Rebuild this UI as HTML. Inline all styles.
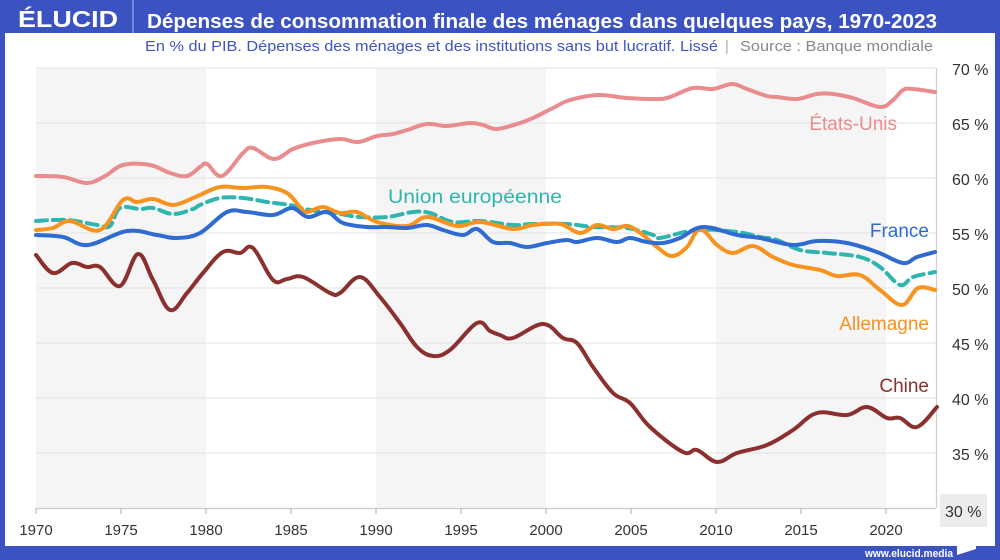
<!DOCTYPE html>
<html><head><meta charset="utf-8"><style>
html,body{margin:0;padding:0;background:#fff;}
svg{display:block;}
text{font-family:"Liberation Sans",sans-serif;}
</style></head><body>
<svg id="chart" width="1000" height="560" viewBox="0 0 1000 560" xmlns="http://www.w3.org/2000/svg">
<rect x="0" y="0" width="1000" height="560" fill="#3b53c0"/>
<rect x="5" y="33" width="990" height="513" fill="#fff"/>
<!-- header -->
<text x="18" y="27" font-size="23" font-weight="bold" fill="#fff" textLength="100" lengthAdjust="spacingAndGlyphs">ÉLUCID</text>
<line x1="133" y1="0" x2="133" y2="33" stroke="#8d9be0" stroke-width="1.5"/>
<text x="147" y="28" font-size="20.5" font-weight="bold" fill="#fff" textLength="790" lengthAdjust="spacingAndGlyphs">Dépenses de consommation finale des ménages dans quelques pays, 1970-2023</text>
<text x="145" y="51" font-size="14.5" fill="#3f56c2" textLength="573" lengthAdjust="spacingAndGlyphs">En % du PIB. Dépenses des ménages et des institutions sans but lucratif. Lissé</text>
<text x="725" y="51" font-size="14.5" fill="#aaa">|</text>
<text x="740" y="51" font-size="14.5" fill="#888" textLength="193" lengthAdjust="spacingAndGlyphs">Source : Banque mondiale</text>
<!-- bands -->
<rect x="36" y="68" width="170" height="440" fill="#f5f5f5"/>
<rect x="376" y="68" width="170" height="440" fill="#f5f5f5"/>
<rect x="716" y="68" width="170" height="440" fill="#f5f5f5"/>
<!-- grid -->
<g stroke="#e6e6e6" stroke-width="1.2">
<line x1="36" y1="68" x2="936" y2="68"/>
<line x1="36" y1="123" x2="936" y2="123"/>
<line x1="36" y1="178" x2="936" y2="178"/>
<line x1="36" y1="233" x2="936" y2="233"/>
<line x1="36" y1="288" x2="936" y2="288"/>
<line x1="36" y1="343" x2="936" y2="343"/>
<line x1="36" y1="398" x2="936" y2="398"/>
<line x1="36" y1="453" x2="936" y2="453"/>
</g>
<line x1="936.5" y1="68" x2="936.5" y2="508" stroke="#cfcfcf" stroke-width="1.2"/>
<line x1="36" y1="508.5" x2="936" y2="508.5" stroke="#cccccc" stroke-width="1.2"/>
<g stroke="#bbb" stroke-width="1.2">
<line x1="36" y1="508" x2="36" y2="514"/>
<line x1="121" y1="508" x2="121" y2="514"/>
<line x1="206" y1="508" x2="206" y2="514"/>
<line x1="291" y1="508" x2="291" y2="514"/>
<line x1="376" y1="508" x2="376" y2="514"/>
<line x1="461" y1="508" x2="461" y2="514"/>
<line x1="546" y1="508" x2="546" y2="514"/>
<line x1="631" y1="508" x2="631" y2="514"/>
<line x1="716" y1="508" x2="716" y2="514"/>
<line x1="801" y1="508" x2="801" y2="514"/>
<line x1="886" y1="508" x2="886" y2="514"/>
</g>
<g font-size="15" fill="#333" text-anchor="middle">
<text x="36" y="535">1970</text>
<text x="121" y="535">1975</text>
<text x="206" y="535">1980</text>
<text x="291" y="535">1985</text>
<text x="376" y="535">1990</text>
<text x="461" y="535">1995</text>
<text x="546" y="535">2000</text>
<text x="631" y="535">2005</text>
<text x="716" y="535">2010</text>
<text x="801" y="535">2015</text>
<text x="886" y="535">2020</text>
</g>
<g font-size="16" fill="#333">
<text x="952" y="75">70 %</text>
<text x="952" y="130">65 %</text>
<text x="952" y="185">60 %</text>
<text x="952" y="240">55 %</text>
<text x="952" y="295">50 %</text>
<text x="952" y="350">45 %</text>
<text x="952" y="405">40 %</text>
<text x="952" y="460">35 %</text>
</g>
<rect x="940" y="494" width="47" height="33" fill="#ececec"/>
<text x="945" y="517" font-size="16" fill="#333">30 %</text>
<!-- series -->
<g fill="none" stroke-width="4" stroke-linejoin="round" stroke-linecap="round">
<polyline class="s" stroke="#e88c8e" points="36,176 63,177 87,183 105,176 123,165 150,165 170,173 187,176 200,167 207,164 222,176 243,153 253,148 274,159 293,149 313,143 340,139 358,142 377,136 393,134 407,130 427,124 447,126 470,123 483,125 497,129 520,123 533,118 553,108 570,100 598,95 627,98 657,99 670,97 693,88 713,89 732,84 747,89 767,96 777,97 797,99 817,94 833,94 853,98 880,107 893,100 903,90 913,89 935,92"/>
<polyline class="s" stroke="#8b2f2f" points="36,255 53,273 72,263 87,267 100,267 120,286 138,254 153,280 170,310 187,293 203,273 223,252 240,253 253,248 273,280 287,279 303,277 330,293 340,293 360,277 380,297 400,323 417,347 433,356 450,350 477,323 490,331 500,335 513,338 543,324 563,338 577,343 593,367 613,393 630,403 650,427 683,452 697,450 717,462 737,453 767,445 793,430 817,413 847,415 867,407 887,418 900,418 917,427 937,407"/>
<polyline class="s" stroke="#2fb5b0" stroke-dasharray="11 6" points="36,221 67,220 97,225 110,226 120,208 140,209 153,208 173,214 193,209 200,205 220,198 243,198 267,202 290,205 310,210 340,214 360,217 387,217 413,212 430,213 453,222 480,221 513,225 533,224 567,224 593,227 627,228 653,235 660,238 697,230 737,232 760,237 777,240 800,250 827,253 860,257 880,267 900,285 913,277 935,272"/>
<polyline class="s" stroke="#f7931e" points="36,230 53,228 70,221 100,230 123,200 137,202 153,199 173,205 193,198 200,195 220,187 243,188 267,187 287,193 300,207 307,212 323,207 340,213 357,212 377,222 407,226 427,217 457,226 480,222 513,229 533,225 560,224 580,233 597,225 613,229 628,226 643,235 657,247 672,256 687,247 700,229 717,245 733,253 753,246 773,257 793,265 820,270 837,276 860,275 880,290 902,305 918,288 935,290"/>
<polyline class="s" stroke="#2f6bd0" points="36,235 63,237 88,245 127,231 157,235 177,238 200,233 227,212 247,212 273,215 292,208 308,217 327,212 343,223 367,227 387,227 407,228 427,225 443,230 463,235 477,229 493,242 510,243 527,247 547,243 567,240 577,242 597,238 617,242 630,238 647,242 663,243 680,238 703,227 737,235 760,238 793,245 817,241 847,243 877,252 903,263 917,257 935,252"/>
</g>
<!-- series labels -->
<g font-size="19" text-anchor="end">
<text x="897" y="130" fill="#e88c8e">États-Unis</text>
<text x="929" y="237" fill="#2f6bd0">France</text>
<text x="929" y="330" fill="#f7931e">Allemagne</text>
<text x="929" y="392" fill="#8b2f2f">Chine</text>
</g>
<text x="388" y="203" font-size="19" fill="#2fb5b0" textLength="174" lengthAdjust="spacingAndGlyphs">Union européenne</text>
<!-- footer -->
<text x="865" y="557" font-size="11" font-weight="bold" fill="#fff" textLength="88" lengthAdjust="spacingAndGlyphs">www.elucid.media</text>
<polygon points="957,546 976,539 976,549 957,555" fill="#fff"/>
</svg>
<script>
(function(){
  var ns="http://www.w3.org/2000/svg";
  var pls=document.querySelectorAll("polyline.s");
  for(var k=0;k<pls.length;k++){
    var pl=pls[k];
    var pts=pl.getAttribute("points").trim().split(/\s+/).map(function(p){var a=p.split(",");return [+a[0],+a[1]];});
    var d="M"+pts[0][0]+","+pts[0][1];
    for(var i=0;i<pts.length-1;i++){
      var p0=pts[i>0?i-1:i],p1=pts[i],p2=pts[i+1],p3=pts[i+2<pts.length?i+2:i+1];
      var t=0.18;
      var c1x=p1[0]+(p2[0]-p0[0])*t,c1y=p1[1]+(p2[1]-p0[1])*t;
      var c2x=p2[0]-(p3[0]-p1[0])*t,c2y=p2[1]-(p3[1]-p1[1])*t;
      d+=" C"+c1x.toFixed(1)+","+c1y.toFixed(1)+" "+c2x.toFixed(1)+","+c2y.toFixed(1)+" "+p2[0]+","+p2[1];
    }
    var path=document.createElementNS(ns,"path");
    path.setAttribute("d",d);
    path.setAttribute("stroke",pl.getAttribute("stroke"));
    if(pl.getAttribute("stroke-dasharray"))path.setAttribute("stroke-dasharray",pl.getAttribute("stroke-dasharray"));
    pl.parentNode.replaceChild(path,pl);
  }
})();
</script>
</body></html>
